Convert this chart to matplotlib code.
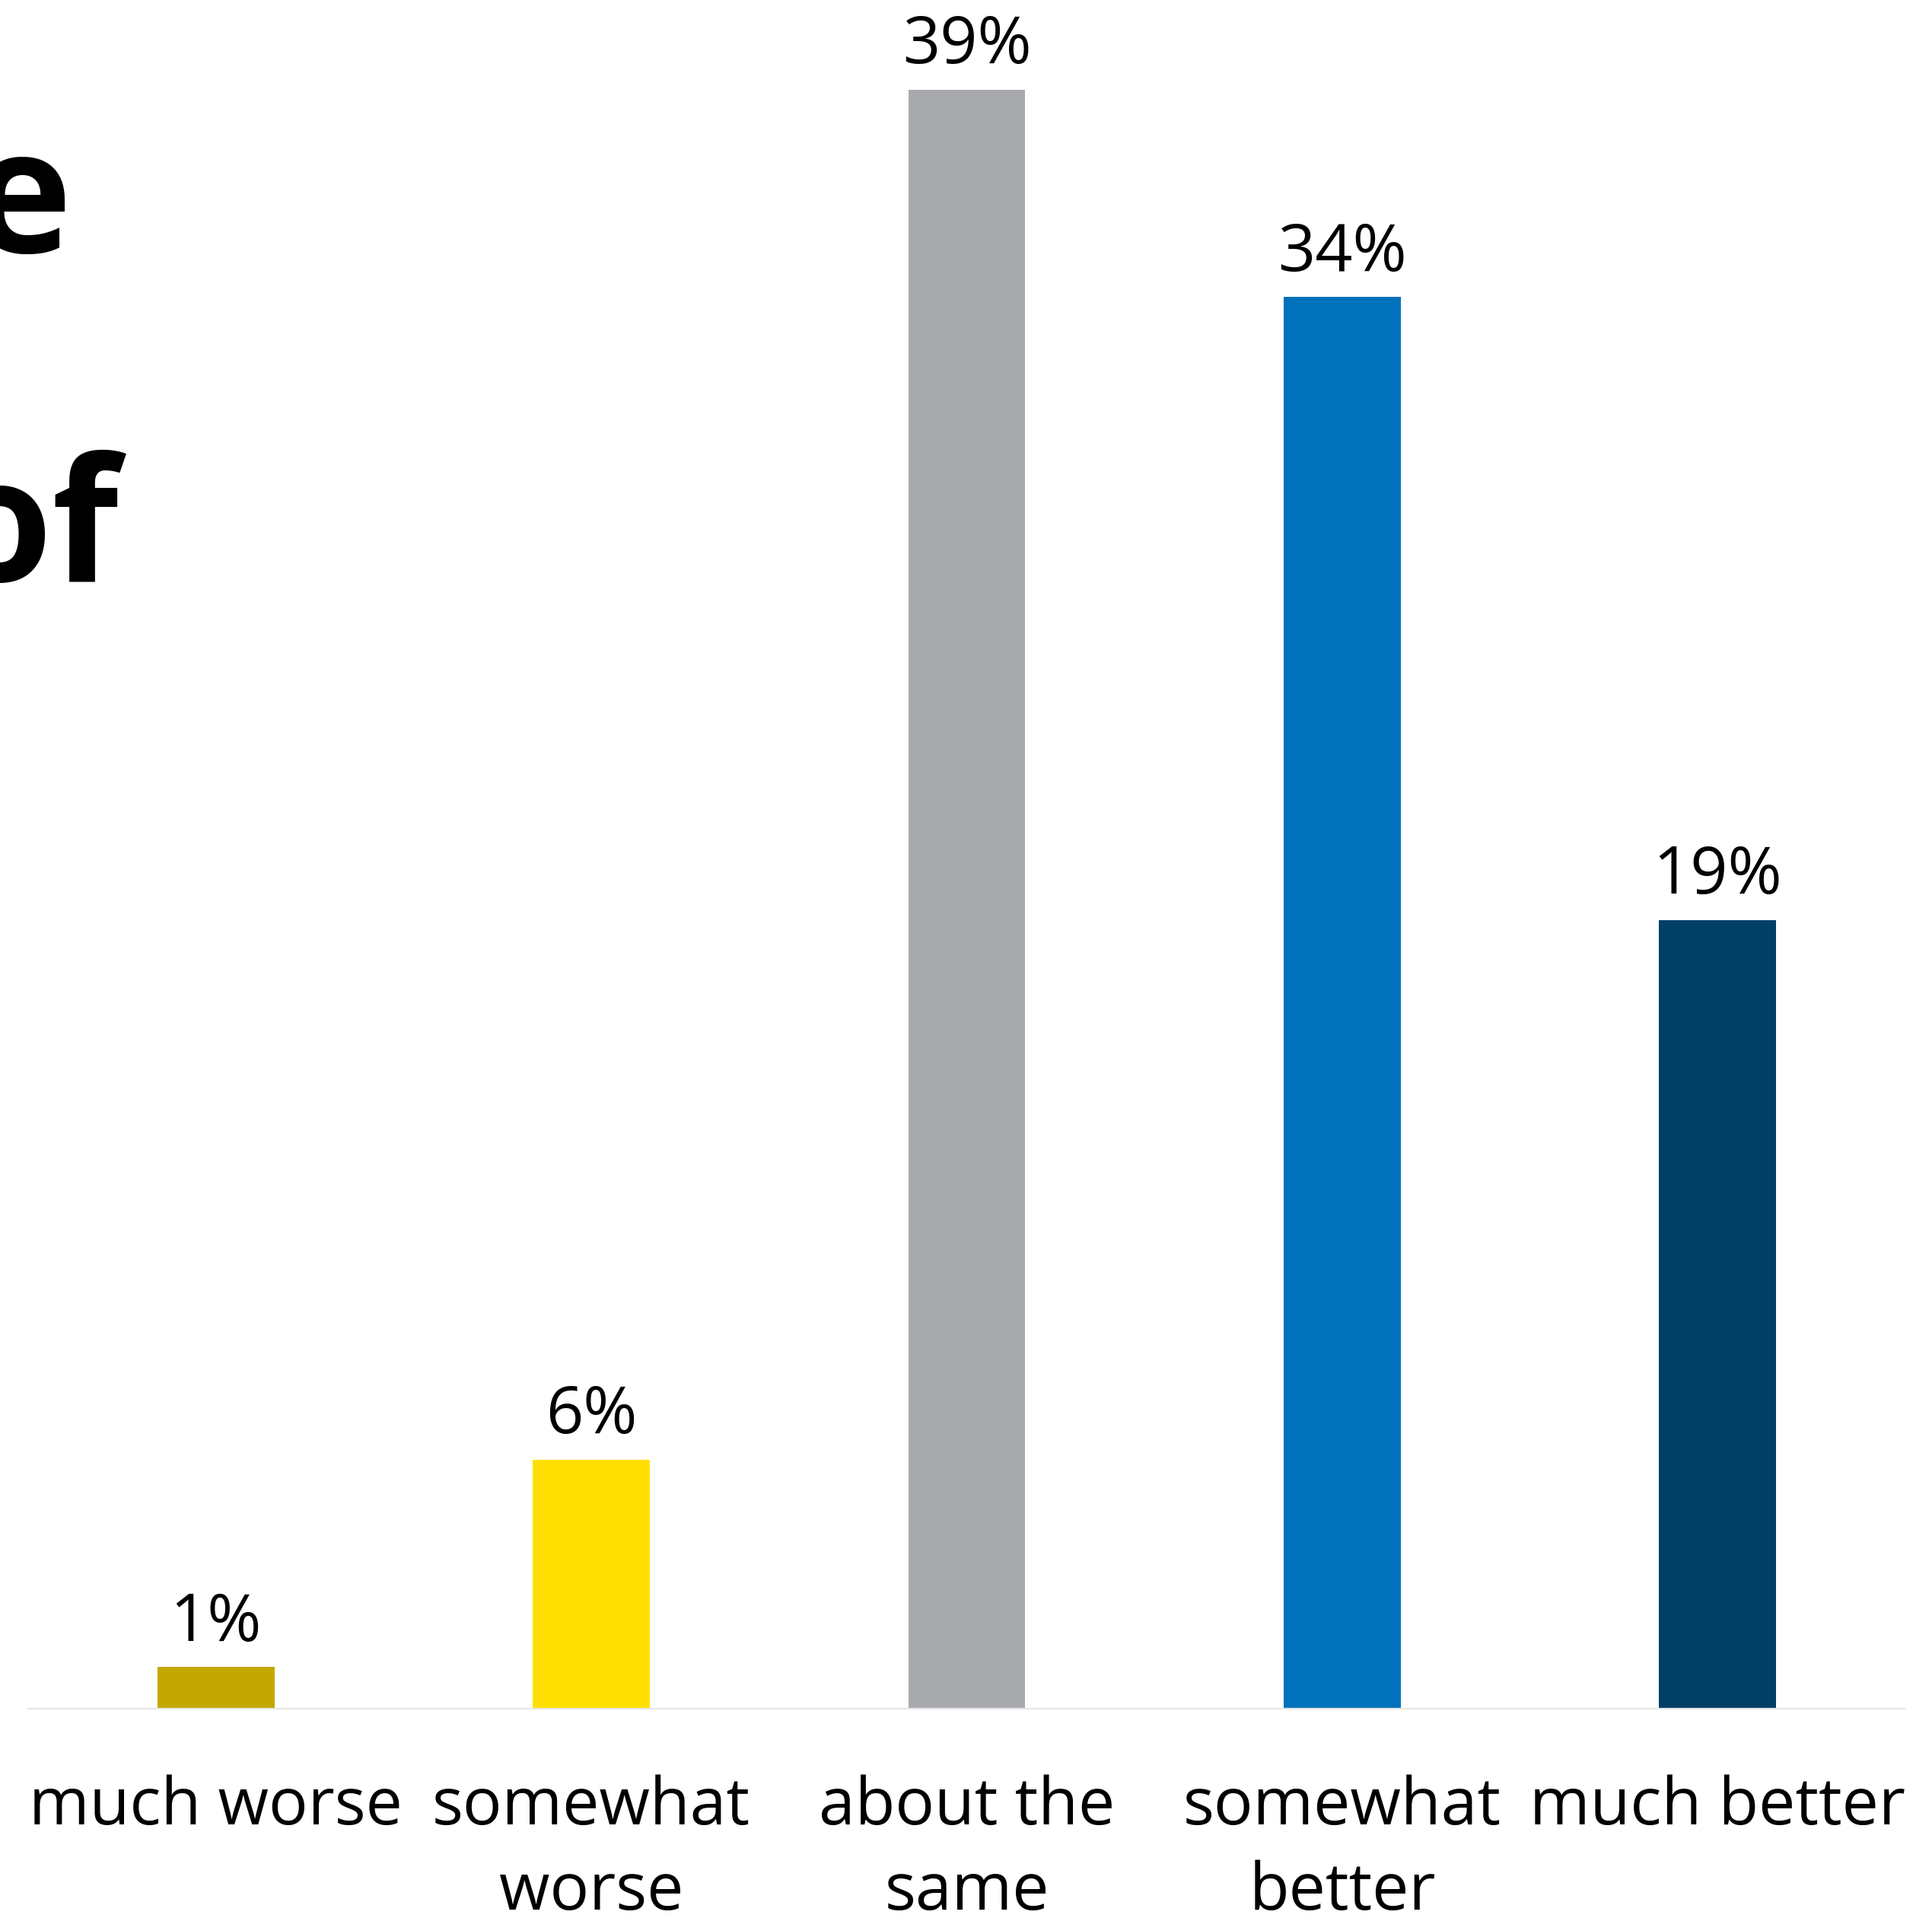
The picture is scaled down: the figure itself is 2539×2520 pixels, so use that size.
import matplotlib
matplotlib.use("Agg")
import matplotlib.pyplot as plt

categories = ["much worse", "somewhat\nworse", "about the\nsame", "somewhat\nbetter", "much better"]
values = [1, 6, 39, 34, 19]
colors = ["#C2A800", "#FFDF00", "#A8A9AD", "#0072BC", "#003F66"]
title_lines = ["e", "of"]  # what survives of the cropped headline

plt.rcParams["font.family"] = ["Open Sans", "DejaVu Sans"]

W, H = 2539, 2520
fig = plt.figure(figsize=(W / 100, H / 100), dpi=100)

# axes placed so the baseline and bar tops land where the reference has them
ax = fig.add_axes([37 / W, 1 - 2245 / H, (2504 - 37) / W, (2245 - 63) / H])
x = range(len(values))
bars = ax.bar(x, values, width=0.312, color=colors, zorder=2)
ax.set_xlim(-0.5, len(values) - 0.5)
ax.set_ylim(0, 40)

for b, v in zip(bars, values):
    ax.annotate(f"{v}%", (b.get_x() + b.get_width() / 2, v),
                xytext=(0, 25), textcoords="offset points",
                ha="center", va="baseline", fontsize=62, color="black")

ax.set_xticks(list(x))
ax.set_xticklabels(categories, fontsize=61.8, linespacing=1.4)
ax.tick_params(axis="x", length=0, pad=62)
ax.set_yticks([])
for s in ["top", "right", "left"]:
    ax.spines[s].set_visible(False)
ax.spines["bottom"].set_color("#E6E6E6")
ax.spines["bottom"].set_linewidth(1.6)

# headline from the left panel, cut at the image edge
fig.text(95 / W, 1 - 332 / H, title_lines[0], ha="right", va="baseline",
         fontsize=163, fontweight="bold", color="black")
fig.text(157 / W, 1 - 764 / H, title_lines[1], ha="right", va="baseline",
         fontsize=163, fontweight="bold", color="black")

fig.savefig("out.png", dpi=100)
